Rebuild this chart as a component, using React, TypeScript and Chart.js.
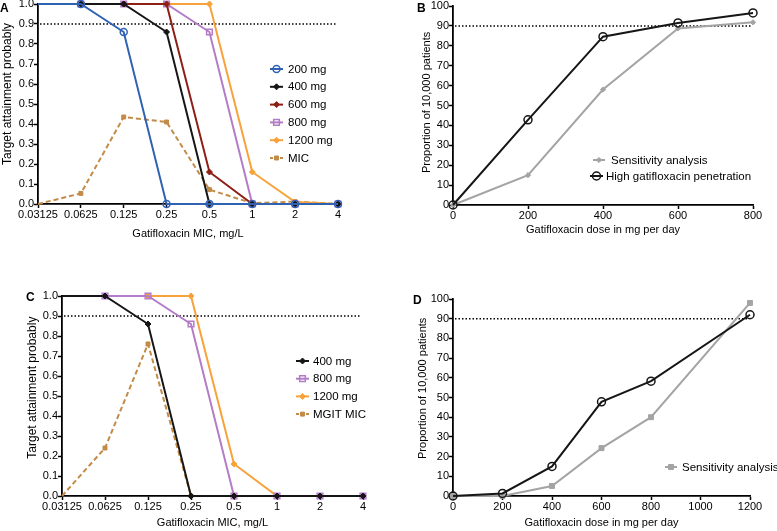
import React, { useEffect, useRef } from 'react';
import { Chart, registerables } from 'chart.js';
import { drawPoint } from 'chart.js/helpers';

Chart.register(...registerables);

const FONT = "'Liberation Sans', Arial, Helvetica, sans-serif";

// ---------- data ----------
const micLabels = ['0.03125', '0.0625', '0.125', '0.25', '0.5', '1', '2', '4'];
const yTicksProb = [0, 1, 0.1];

// Panel A
const a200 = [1, 1, 0.86, 0, 0, 0, 0, 0];
const a400 = [1, 1, 1, 0.86, 0, 0, 0, 0];
const a600 = [1, 1, 1, 1, 0.16, 0, 0, 0];
const a800 = [1, 1, 1, 1, 0.86, 0, 0, 0];
const a1200 = [1, 1, 1, 1, 1, 0.16, 0.01, 0];
const aMic = [0, 0.053, 0.435, 0.41, 0.072, 0.004, 0.012, 0];

// Panel C
const c400 = [1, 1, 0.86, 0, 0, 0, 0, 0];
const c800 = [1, 1, 1, 0.86, 0, 0, 0, 0];
const c1200 = [1, 1, 1, 1, 0.16, 0, 0, 0];
const cMgit = [0, 0.24, 0.76, 0, 0, 0, 0, 0];

const targetProb = 0.9;

// Panel B
const bDoses = [0, 200, 400, 600, 800];
const bSens = [0, 15, 58, 88.7, 91.8];
const bHigh = [0, 42.8, 84.6, 91.5, 96.5];

// Panel D
const dDoses = [0, 200, 400, 600, 800, 1200];
const dSens = [0, 0, 5.1, 24.3, 40, 98];
const dMain = [0, 1.3, 15, 47.8, 58.3, 92];

const targetPct = 90;

// ---------- colours ----------
const BLUE = '#3062b4';
const BLACK = '#161616';
const RED = '#8e1f17';
const PURPLE = '#b47cc6';
const ORANGE = '#f7a23b';
const TAN = '#c28b48';
const GRAY = '#a4a4a4';

// ---------- plugins ----------
const refLinePlugin = {
  id: 'refLine',
  beforeDatasetsDraw(chart: any, _a: any, opts: any) {
    if (opts == null || opts.value == null) return;
    const y = chart.scales.y.getPixelForValue(opts.value);
    const { left, right } = chart.chartArea;
    const ctx = chart.ctx;
    ctx.save();
    ctx.strokeStyle = '#000';
    ctx.lineWidth = 1.5;
    ctx.setLineDash([1.5, 2]);
    ctx.beginPath();
    ctx.moveTo(left + 2, y);
    ctx.lineTo(right - 2, y);
    ctx.stroke();
    ctx.restore();
  },
};

const legendPlugin = {
  id: 'panelLegend',
  afterDraw(chart: any, _a: any, opts: any) {
    if (!opts || !opts.items) return;
    const ctx = chart.ctx;
    ctx.save();
    for (const it of opts.items) {
      const ds = chart.data.datasets[it.index];
      const x1 = it.x1 ?? opts.x1;
      const x2 = it.x2 ?? opts.x2;
      const tx = it.tx ?? opts.tx;
      const y = it.y;
      ctx.strokeStyle = ds.borderColor;
      ctx.lineWidth = ds.borderWidth;
      ctx.setLineDash(ds.borderDash && ds.borderDash.length ? [3, 2] : []);
      ctx.beginPath();
      ctx.moveTo(x1, y);
      ctx.lineTo(x2, y);
      ctx.stroke();
      ctx.setLineDash([]);
      ctx.fillStyle = ds.pointBackgroundColor;
      ctx.strokeStyle = ds.pointBorderColor;
      ctx.lineWidth = ds.pointBorderWidth;
      drawPoint(
        ctx,
        { pointStyle: ds.pointStyle, radius: ds.mk, borderWidth: ds.pointBorderWidth, rotation: 0 } as any,
        (x1 + x2) / 2,
        y
      );
      ctx.fillStyle = '#000';
      ctx.font = `11.5px ${FONT}`;
      ctx.textBaseline = 'middle';
      ctx.textAlign = 'left';
      ctx.fillText(ds.label, tx, y + 0.5);
    }
    ctx.restore();
  },
};

// ---------- helpers ----------
function series(
  label: string,
  data: any[],
  color: string,
  style: string,
  radius: number,
  open: boolean,
  dashed = false,
  hideFirst = false
) {
  return {
    label,
    data,
    borderColor: color,
    backgroundColor: color,
    borderWidth: 2,
    borderDash: dashed ? [5, 3] : [],
    pointStyle: style,
    pointRadius: hideFirst ? data.map((_: any, i: number) => (i === 0 ? 0 : radius)) : radius,
    pointHoverRadius: radius,
    pointBackgroundColor: open ? 'rgba(0,0,0,0)' : color,
    pointBorderColor: color,
    pointBorderWidth: open ? 1.5 : 1,
    mk: radius,
    tension: 0,
    fill: false,
    clip: false,
  };
}

function yScale(
  range: number[],
  width: number,
  text: string,
  titleSize: number,
  titlePad: number,
  digits: number
) {
  return {
    type: 'linear',
    min: range[0],
    max: range[1],
    ticks: {
      stepSize: range[2],
      autoSkip: false,
      font: { family: FONT, size: 11 },
      color: '#000',
      padding: 0,
      callback: (v: any) => Number(v).toFixed(digits),
    },
    grid: { drawOnChartArea: false, drawTicks: true, tickLength: 4, tickWidth: 1.5, color: '#000', tickColor: '#000' },
    border: { display: true, color: '#000', width: 1.8 },
    title: {
      display: true,
      text,
      color: '#000',
      font: { family: FONT, size: titleSize },
      padding: { top: titlePad, bottom: 0 },
    },
    afterFit: (s: any) => {
      s.width = width;
    },
  };
}

function xCommon(height: number, text: string, titlePadBottom: number) {
  return {
    grid: { drawOnChartArea: false, drawTicks: true, tickLength: 4, tickWidth: 1.5, color: '#000', tickColor: '#000' },
    border: { display: true, color: '#000', width: 1.8 },
    title: {
      display: true,
      text,
      color: '#000',
      font: { family: FONT, size: 11 },
      padding: { top: 0, bottom: titlePadBottom },
    },
    afterFit: (s: any) => {
      s.height = height;
    },
  };
}

function xCategory(height: number, text: string, titlePadBottom: number) {
  return {
    type: 'category',
    offset: false,
    ticks: { autoSkip: false, maxRotation: 0, minRotation: 0, font: { family: FONT, size: 11 }, color: '#000', padding: 0 },
    ...xCommon(height, text, titlePadBottom),
  };
}

function xLinear(max: number, height: number, text: string, titlePadBottom: number) {
  return {
    type: 'linear',
    min: 0,
    max,
    ticks: {
      stepSize: 200,
      autoSkip: false,
      maxRotation: 0,
      font: { family: FONT, size: 11 },
      color: '#000',
      padding: 0,
      callback: (v: any) => String(v),
    },
    ...xCommon(height, text, titlePadBottom),
  };
}

function pts(xs: number[], ys: number[]) {
  return xs.map((x, i) => ({ x, y: ys[i] }));
}

function baseOptions(padding: any, scales: any, legend: any, refValue: number) {
  return {
    animation: false,
    responsive: false,
    maintainAspectRatio: false,
    events: [],
    layout: { padding },
    plugins: {
      legend: { display: false },
      tooltip: { enabled: false },
      panelLegend: legend,
      refLine: { value: refValue },
    },
    scales,
  };
}

// ---------- chart configs ----------
function configA() {
  return {
    type: 'line',
    data: {
      labels: micLabels,
      datasets: [
        series('200 mg', a200, BLUE, 'circle', 3.5, true, false, true),
        series('400 mg', a400, BLACK, 'rectRot', 3, false, false, true),
        series('600 mg', a600, RED, 'rectRot', 3, false, false, true),
        series('800 mg', a800, PURPLE, 'rect', 4, true, false, true),
        series('1200 mg', a1200, ORANGE, 'rectRot', 3, false, false, true),
        series('MIC', aMic, TAN, 'rect', 2.8, false, true, true),
      ],
    },
    options: baseOptions(
      { left: 0, top: 8, right: 47, bottom: 0 },
      {
        x: xCategory(41, 'Gatifloxacin MIC, mg/L', 4.4),
        y: yScale(yTicksProb, 38, '      Target attainment probably', 12, 0.8, 1),
      },
      {
        x1: 270,
        x2: 283,
        tx: 288,
        items: [
          { index: 0, y: 73 },
          { index: 1, y: 90.8 },
          { index: 2, y: 108.6 },
          { index: 3, y: 126.4 },
          { index: 4, y: 144.2 },
          { index: 5, y: 162 },
        ],
      },
      targetProb
    ),
    plugins: [refLinePlugin, legendPlugin],
  };
}

function configB() {
  return {
    type: 'line',
    data: {
      datasets: [
        series('High gatifloxacin penetration', pts(bDoses, bHigh), BLACK, 'circle', 4, true),
        series('Sensitivity analysis', pts(bDoses, bSens), GRAY, 'rectRot', 2.6, false),
      ],
    },
    options: baseOptions(
      { left: 0, top: 8, right: 24, bottom: 0 },
      {
        x: xLinear(800, 40, 'Gatifloxacin dose in mg per day', 8.4),
        y: yScale([0, 100, 10], 53, '  Proportion of 10,000 patients', 11, 20.4, 0),
      },
      {
        items: [
          { index: 1, y: 162, x1: 193, x2: 205, tx: 211 },
          { index: 0, y: 178, x1: 190, x2: 203, tx: 206 },
        ],
      },
      targetPct
    ),
    plugins: [refLinePlugin, legendPlugin],
  };
}

function configC() {
  return {
    type: 'line',
    data: {
      labels: micLabels,
      datasets: [
        series('400 mg', c400, BLACK, 'rectRot', 3, false, false, true),
        series('800 mg', c800, PURPLE, 'rect', 4, true, false, true),
        series('1200 mg', c1200, ORANGE, 'rectRot', 3, false, false, true),
        series('MGIT MIC', cMgit, TAN, 'rect', 2.8, false, true, true),
      ],
    },
    options: baseOptions(
      { left: 0, top: 34, right: 22, bottom: 0 },
      {
        x: xCategory(35, 'Gatifloxacin MIC, mg/L', 1.4),
        y: yScale(yTicksProb, 62, '     Target attainment probably', 12, 25.8, 1),
      },
      {
        x1: 296,
        x2: 309,
        tx: 313,
        items: [
          { index: 0, y: 99 },
          { index: 1, y: 116.7 },
          { index: 2, y: 134.4 },
          { index: 3, y: 152.1 },
        ],
      },
      targetProb
    ),
    plugins: [refLinePlugin, legendPlugin],
  };
}

function configD() {
  return {
    type: 'line',
    data: {
      datasets: [
        series('High gatifloxacin penetration', pts(dDoses, dMain), BLACK, 'circle', 4, true),
        series('Sensitivity analysis', pts(dDoses, dSens), GRAY, 'rect', 3.5, false),
      ],
    },
    options: baseOptions(
      { left: 0, top: 37, right: 27, bottom: 0 },
      {
        x: xLinear(1200, 35, 'Gatifloxacin dose in mg per day', 1.4),
        y: yScale([0, 100, 10], 53, '      Proportion of 10,000 patients', 11, 16.4, 0),
      },
      {
        items: [{ index: 1, y: 205, x1: 265, x2: 277, tx: 282 }],
      },
      targetPct
    ),
    plugins: [refLinePlugin, legendPlugin],
  };
}

// ---------- components ----------
function Panel(props: { left: number; top: number; width: number; height: number; build: () => any }) {
  const ref = useRef<HTMLCanvasElement>(null);
  useEffect(() => {
    const chart = new Chart(ref.current as HTMLCanvasElement, props.build());
    return () => chart.destroy();
  }, []);
  return (
    <canvas
      ref={ref}
      width={props.width}
      height={props.height}
      style={{ position: 'absolute', left: props.left, top: props.top, width: props.width, height: props.height }}
    />
  );
}

function PanelLabel(props: { text: string; left: number; top: number }) {
  return (
    <div
      style={{
        position: 'absolute',
        left: props.left,
        top: props.top,
        font: `bold 12px ${FONT}`,
        lineHeight: '12px',
        color: '#000',
      }}
    >
      {props.text}
    </div>
  );
}

export default function App() {
  return (
    <div
      style={{
        position: 'absolute',
        left: 0,
        top: 0,
        width: 777,
        height: 531,
        overflow: 'hidden',
        background: '#fff',
      }}
    >
      <Panel left={0} top={-4} width={385} height={249} build={configA} />
      <Panel left={400} top={-2} width={377} height={247} build={configB} />
      <Panel left={0} top={262} width={385} height={269} build={configC} />
      <Panel left={400} top={262} width={377} height={269} build={configD} />
      <PanelLabel text="A" left={0} top={1.5} />
      <PanelLabel text="B" left={417} top={1.5} />
      <PanelLabel text="C" left={26} top={290.5} />
      <PanelLabel text="D" left={413} top={293.5} />
    </div>
  );
}
